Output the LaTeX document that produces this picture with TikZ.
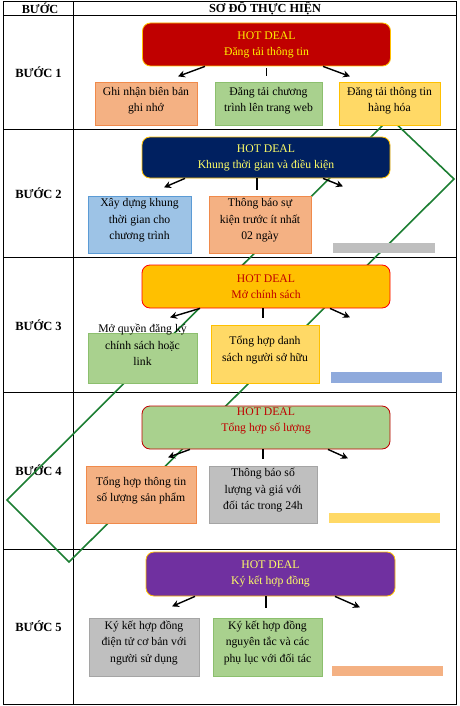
\documentclass[tikz,border=0pt]{standalone}
\usepackage{fontspec}
\setmainfont{Liberation Serif}
\usetikzlibrary{arrows.meta,positioning,calc}

\definecolor{hotred}{HTML}{C00000}
\definecolor{gold}{HTML}{FFC000}
\definecolor{navy}{HTML}{002060}
\definecolor{purp}{HTML}{7030A0}
\definecolor{salmon}{HTML}{F4B183}
\definecolor{salmonline}{HTML}{F08A4B}
\definecolor{leaf}{HTML}{A9D18E}
\definecolor{leafline}{HTML}{8CBF6E}
\definecolor{sand}{HTML}{FFD966}
\definecolor{sandline}{HTML}{FFC000}
\definecolor{sky}{HTML}{9DC3E6}
\definecolor{skyline}{HTML}{5B9BD5}
\definecolor{ash}{HTML}{BFBFBF}
\definecolor{ashline}{HTML}{A5A5A5}
\definecolor{steel}{HTML}{8FAADC}
\definecolor{paleyellow}{HTML}{FFFF66}
\definecolor{pathgreen}{RGB}{28,126,50}

\tikzset{
  mainbox/.style={draw=gold, rounded corners=8pt, line width=0.8pt,
    minimum width=248pt, minimum height=43pt, inner sep=0pt,
    align=center, font=\fontsize{11.7}{16}\selectfont},
  subbox/.style={draw, line width=0.6pt, inner sep=0pt, minimum height=57pt},
  subtext/.style={align=center, font=\fontsize{11.7}{16.5}\selectfont},
  barbox/.style={inner sep=0pt, minimum height=10.5pt, minimum width=102pt},
  steplabel/.style={font=\bfseries\fontsize{12.5}{14}\selectfont},
  headtext/.style={font=\bfseries\fontsize{12.3}{13}\selectfont},
  arr/.style={-{Stealth[length=7pt,width=7pt]}, line width=1.4pt},
  tick/.style={line width=1.4pt},
  pathline/.style={draw=pathgreen, line width=1.6pt, line join=miter}
}

\begin{document}
\begin{tikzpicture}[x=1pt, y=-1pt]
  \useasboundingbox (0,0) rectangle (459,706);

  % table
  \draw[line width=0.8pt] (3.5,1.5) rectangle (456.5,704);
  \draw[line width=0.8pt] (73,1.5) -- (73,704);
  \foreach \yy in {15,129,257,392,549}
    \draw[line width=0.8pt] (3.5,\yy) -- (456.5,\yy);

  % header and step labels
  \node[headtext] (hstep) at (40,8.5) {BƯỚC};
  \node[headtext] (hplan) at (265,8.5) {SƠ ĐỒ THỰC HIỆN};
  \node[steplabel] (s1) at (38.5,72) {BƯỚC 1};
  \node[steplabel] (s2) at (38.5,193) {BƯỚC 2};
  \node[steplabel] (s3) at (38.5,325) {BƯỚC 3};
  \node[steplabel] (s4) at (38.5,470.5) {BƯỚC 4};
  \node[steplabel] (s5) at (38.5,626.5) {BƯỚC 5};

  % green loop behind the boxes
  \draw[pathline] (390,118) -- (454,179) -- (69,562) -- (7,500) -- cycle;

  % Step 1
  \node[mainbox, fill=hotred, text=yellow] (m1) at (266.5,44.5) {HOT DEAL\\Đăng tải thông tin};
  \node[subbox, draw=salmonline, fill=salmon, minimum width=102pt, minimum height=43pt] (b11) at (146,103.5) {};
  \node[subtext] (t11) at ([yshift=3pt]b11.center) {Ghi nhận biên bản\\ghi nhớ};
  \node[subbox, draw=leafline, fill=leaf, minimum width=107pt, minimum height=43pt] (b12) at (268.5,103.5) {};
  \node[subtext] (t12) at ([yshift=3pt]b12.center) {Đăng tải chương\\trình lên trang web};
  \node[subbox, draw=sandline, fill=sand, minimum width=101pt, minimum height=43pt] (b13) at (389.5,103.5) {};
  \node[subtext] (t13) at ([yshift=3pt]b13.center) {Đăng tải thông tin\\hàng hóa};
  \draw[arr] ([xshift=-61.5pt]m1.south) -- ++(-27,10);
  \draw[tick] ([yshift=-2pt]m1.south) -- ++(0,8);
  \draw[arr] ([xshift=56.5pt]m1.south) -- ++(27,10);

  % Step 2
  \node[mainbox, fill=navy, text=paleyellow, minimum height=41pt] (m2) at (266,157.5) {HOT DEAL\\Khung thời gian và điều kiện};
  \node[subbox, draw=skyline, fill=sky, minimum width=103pt] (b21) at (139.5,224.5) {};
  \node[subtext] (t21) at ([yshift=4pt]b21.center) {Xây dựng khung\\thời gian cho\\chương trình};
  \node[subbox, draw=salmonline, fill=salmon, minimum width=102pt] (b22) at (260,224.5) {};
  \node[subtext] (t22) at ([yshift=4pt]b22.center) {Thông báo sự\\kiện trước ít nhất\\02 ngày};
  \node[barbox, fill=ash] (bar2) at (384,248) {};
  \draw[arr] ([xshift=-81pt]m2.south) -- ++(-21,9);
  \draw[tick] ([xshift=-9pt]m2.south) -- ++(0,12);
  \draw[arr] ([xshift=57pt]m2.south) -- ++(20,8);

  % Step 3
  \node[mainbox, fill=gold, draw=red, text=hotred] (m3) at (266,286.5) {HOT DEAL\\Mở chính sách};
  \node[subbox, draw=leafline, fill=leaf, minimum width=109pt, minimum height=50pt] (b31) at (142.5,358) {};
  \node[subtext] (t31) at ([yshift=13pt]b31.center) {Mở quyền đăng ký\\chính sách hoặc\\link};
  \node[subbox, draw=sandline, fill=sand, minimum width=108pt, minimum height=58pt] (b32) at (265,354) {};
  \node[subtext] (t32) at ([yshift=4pt]b32.center) {Tổng hợp danh\\sách người sở hữu};
  \node[barbox, fill=steel, minimum width=111pt, minimum height=11pt] (bar3) at (386.5,377.5) {};
  \draw[arr] ([xshift=-66pt]m3.south) -- ++(-30,9);
  \draw[tick] ([xshift=-3pt]m3.south) -- ++(0,10);
  \draw[arr] ([xshift=64pt]m3.south) -- ++(20,9);

  % Step 4
  \node[mainbox, fill=leaf, draw=hotred] (m4) at (266,427.5) {};
  \node[mainbox, draw=none, text=hotred] (t4) at ([yshift=7pt]m4.center) {HOT DEAL\\Tổng hợp số lượng};
  \node[subbox, draw=salmonline, fill=salmon, minimum width=110pt] (b41) at (141,494.5) {};
  \node[subtext] (t41) at ([yshift=4pt]b41.center) {Tổng hợp thông tin\\số lượng sản phẩm};
  \node[subbox, draw=ashline, fill=ash, minimum width=108pt] (b42) at (263,494.5) {};
  \node[subtext] (t42) at ([yshift=4pt]b42.center) {Thông báo số\\lượng và giá với\\đối tác trong 24h};
  \node[barbox, fill=sand, minimum width=111pt] (bar4) at (384.5,518) {};
  \draw[arr] ([xshift=-76pt]m4.south) -- ++(-22,8);
  \draw[tick] ([xshift=-3pt]m4.south) -- ++(0,10);
  \draw[arr] ([xshift=62pt]m4.south) -- ++(20,9);

  % Step 5
  \node[mainbox, fill=purp, text=paleyellow, minimum width=249pt, minimum height=44pt] (m5) at (270.5,574) {HOT DEAL\\Ký kết hợp đồng};
  \node[subbox, draw=ashline, fill=ash, minimum width=110pt, minimum height=58pt] (b51) at (144,647) {};
  \node[subtext] (t51) at ([yshift=4pt]b51.center) {Ký kết hợp đồng\\điện tử cơ bản với\\người sử dụng};
  \node[subbox, draw=leafline, fill=leaf, minimum width=109pt, minimum height=58pt] (b52) at (267.5,647) {};
  \node[subtext] (t52) at ([yshift=4pt]b52.center) {Ký kết hợp đồng\\nguyên tắc và các\\phụ lục với đối tác};
  \node[barbox, fill=salmon, minimum width=111pt] (bar5) at (387.5,671) {};
  \draw[arr] ([xshift=-75.5pt]m5.south) -- ++(-23,10);
  \draw[tick] ([xshift=-4.5pt]m5.south) -- ++(0,12);
  \draw[arr] ([xshift=64.5pt]m5.south) -- ++(25,11);
\end{tikzpicture}
\end{document}
